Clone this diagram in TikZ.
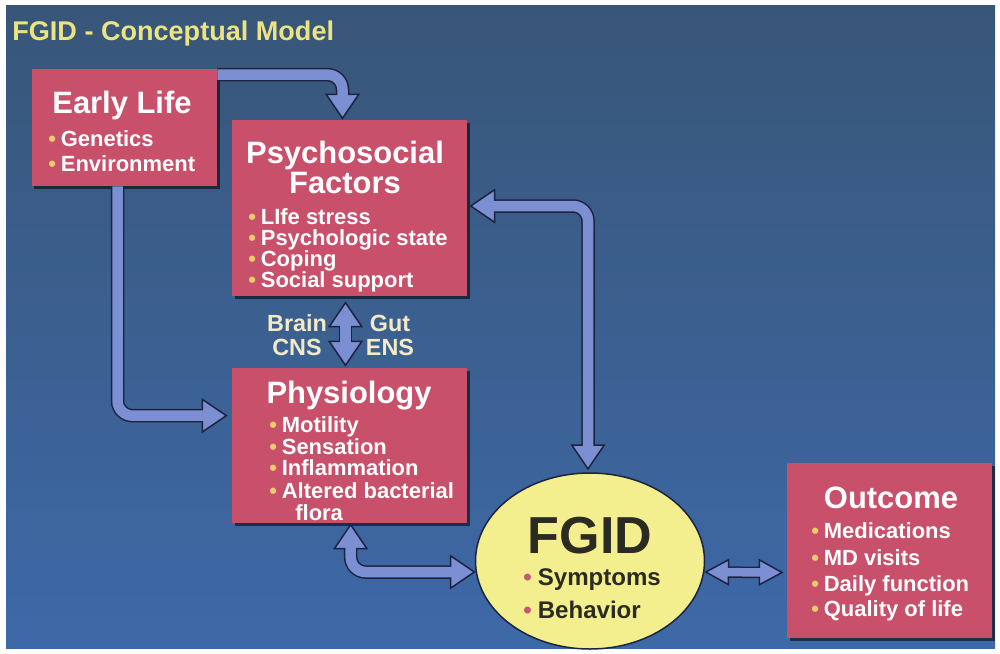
\documentclass[tikz,border=0pt]{standalone}
\usepackage{fontspec}
\setmainfont{Liberation Sans}
\usetikzlibrary{positioning,calc,shapes.geometric,arrows.meta,shadows}

\definecolor{bgtop}{HTML}{385678}
\definecolor{bgbottom}{HTML}{3E69A8}
\definecolor{boxred}{HTML}{C8506A}
\definecolor{arrowfill}{HTML}{7D8FD3}
\definecolor{arrowedge}{HTML}{1C2340}
\definecolor{fgidyellow}{HTML}{F3EF8E}
\definecolor{fgidtext}{HTML}{2B2B22}
\definecolor{titleyellow}{HTML}{ECE383}
\definecolor{bulletgold}{HTML}{EBCB6A}
\definecolor{bulletrose}{HTML}{C25A72}
\definecolor{labelcream}{HTML}{F2EBC6}

\newcommand{\bul}{\textcolor{bulletgold}{\textbullet}\hspace{0.22em}}

\begin{document}
\begin{tikzpicture}[x=0.2mm, y=-0.2mm,
    box/.style={rectangle, fill=boxred, inner sep=0pt,
                drop shadow={shadow xshift=0.5mm, shadow yshift=-0.5mm, opacity=0.55, fill=black}},
    hdtext/.style={text=white, anchor=base, inner sep=0pt, font=\bfseries\fontsize{17.6}{20}\selectfont},
    bultext/.style={text=white, anchor=base west, inner sep=0pt, font=\bfseries\fontsize{12.5}{15}\selectfont},
    gbtext/.style={text=labelcream, anchor=base, inner sep=0pt, font=\bfseries\fontsize{13.3}{15}\selectfont},
    fatout/.style={draw=arrowedge, line width=2.7mm, rounded corners=3mm},
    fatin/.style={draw=arrowfill, line width=2.1mm, rounded corners=3mm},
    fathead/.tip={Triangle[width=7mm, length=5.2mm, line width=0.3mm, color=arrowedge, fill=arrowfill]},
    smallhead/.tip={Triangle[width=5.4mm, length=5mm, line width=0.3mm, color=arrowedge, fill=arrowfill]}
]
    % background with thin white margin
    \fill[white] (0,0) rectangle (1000,653);
    \shade[top color=bgtop, bottom color=bgbottom] (6,5) rectangle (995,648);
    \useasboundingbox (0,0) rectangle (1000,653);

    \node[anchor=base west, inner sep=0pt, text=titleyellow,
          font=\bfseries\fontsize{15.4}{18}\selectfont] (title) at (12,40) {FGID - Conceptual Model};

    % boxes
    \node[box, minimum width=37mm, minimum height=23.4mm] (early)   at (124.5,127.5) {};
    \node[box, minimum width=47mm, minimum height=35.2mm] (psych)   at (349.5,208)   {};
    \node[box, minimum width=47mm, minimum height=31mm]   (phys)    at (349.5,445.5) {};
    \node[box, minimum width=41mm, minimum height=35mm]   (outcome) at (889.5,550.5) {};
    \node[ellipse, draw=arrowedge, line width=0.3mm, fill=fgidyellow,
          minimum width=45.8mm, minimum height=35.2mm, inner sep=0pt] (fgid) at (590,561) {};

    % early life
    \node[hdtext]  (earlyhd) at (122,113) {Early Life};
    \node[bultext] (earlyb1) at (48,146)  {\bul Genetics};
    \node[bultext] (earlyb2) at (48,171)  {\bul Environment};

    % psychosocial factors
    \node[hdtext]  (psychhd1) at (345,163) {Psychosocial};
    \node[hdtext]  (psychhd2) at (345,193) {Factors};
    \node[bultext] (psychb1)  at (248,224) {\bul LIfe stress};
    \node[bultext] (psychb2)  at (248,245) {\bul Psychologic state};
    \node[bultext] (psychb3)  at (248,266) {\bul Coping};
    \node[bultext] (psychb4)  at (248,287) {\bul Social support};

    % brain-gut labels
    \node[gbtext] (brain) at (297,331) {Brain};
    \node[gbtext] (cns)   at (297,355) {CNS};
    \node[gbtext] (gut)   at (390,331) {Gut};
    \node[gbtext] (ens)   at (390,355) {ENS};

    % physiology
    \node[hdtext]  (physhd) at (349,403) {Physiology};
    \node[bultext] (physb1) at (269,432) {\bul Motility};
    \node[bultext] (physb2) at (269,454) {\bul Sensation};
    \node[bultext] (physb3) at (269,475) {\bul Inflammation};
    \node[bultext] (physb4) at (269,498) {\bul Altered bacterial};
    \node[bultext] (physb5) at (295,520) {flora};

    % FGID
    \node[anchor=base, inner sep=0pt, text=fgidtext,
          font=\bfseries\fontsize{29.6}{32}\selectfont] (fgidhd) at (590,553) {FGID};
    \node[bultext, text=fgidtext, font=\bfseries\fontsize{13.7}{16}\selectfont] (fgidb1) at (523,585)
        {\textcolor{bulletrose}{\textbullet}\hspace{0.25em}Symptoms};
    \node[bultext, text=fgidtext, font=\bfseries\fontsize{13.7}{16}\selectfont] (fgidb2) at (523,618)
        {\textcolor{bulletrose}{\textbullet}\hspace{0.25em}Behavior};

    % outcome
    \node[hdtext]  (outhd) at (891,508) {Outcome};
    \node[bultext] (outb1) at (811,538) {\bul Medications};
    \node[bultext] (outb2) at (811,565) {\bul MD visits};
    \node[bultext] (outb3) at (811,591) {\bul Daily function};
    \node[bultext] (outb4) at (811,616) {\bul Quality of life};

    % connectors: dark outline pass, then light fill pass
    \draw[fatout, -fathead] ($(early.north east)+(0,6)$) -| ($(psych.north)+(-7,0)$);
    \draw[fatin, shorten >=4.7mm] ($(early.north east)+(0,6)$) -| ($(psych.north)+(-7,0)$);

    \draw[fatout, -fathead] ($(early.south)+(-7,0)$) |- ($(phys.north west)+(-4,48)$);
    \draw[fatin, shorten >=4.7mm] ($(early.south)+(-7,0)$) |- ($(phys.north west)+(-4,48)$);

    \draw[fatout, fathead-fathead] ($(psych.east)+(2,-2)$) -| ($(fgid.north)+(-2,-2)$);
    \draw[fatin, shorten <=4.7mm, shorten >=4.7mm] ($(psych.east)+(2,-2)$) -| ($(fgid.north)+(-2,-2)$);

    \draw[fatout, fathead-fathead] ($(psych.south)+(-4,5)$) -- ($(phys.north)+(-4,-1)$);
    \draw[fatin, shorten <=4.7mm, shorten >=4.7mm] ($(psych.south)+(-4,5)$) -- ($(phys.north)+(-4,-1)$);

    \draw[fatout, fathead-fathead] ($(phys.south west)+(119,0)$) |- ($(fgid.west)+(1,11)$);
    \draw[fatin, shorten <=4.7mm, shorten >=4.7mm] ($(phys.south west)+(119,0)$) |- ($(fgid.west)+(1,11)$);

    \draw[fatout, line width=2.3mm, smallhead-smallhead] ($(fgid.east)+(-1,11)$) -- ($(outcome.west)+(-3,22)$);
    \draw[fatin, line width=1.7mm, shorten <=4.5mm, shorten >=4.5mm] ($(fgid.east)+(-1,11)$) -- ($(outcome.west)+(-3,22)$);
\end{tikzpicture}
\end{document}
